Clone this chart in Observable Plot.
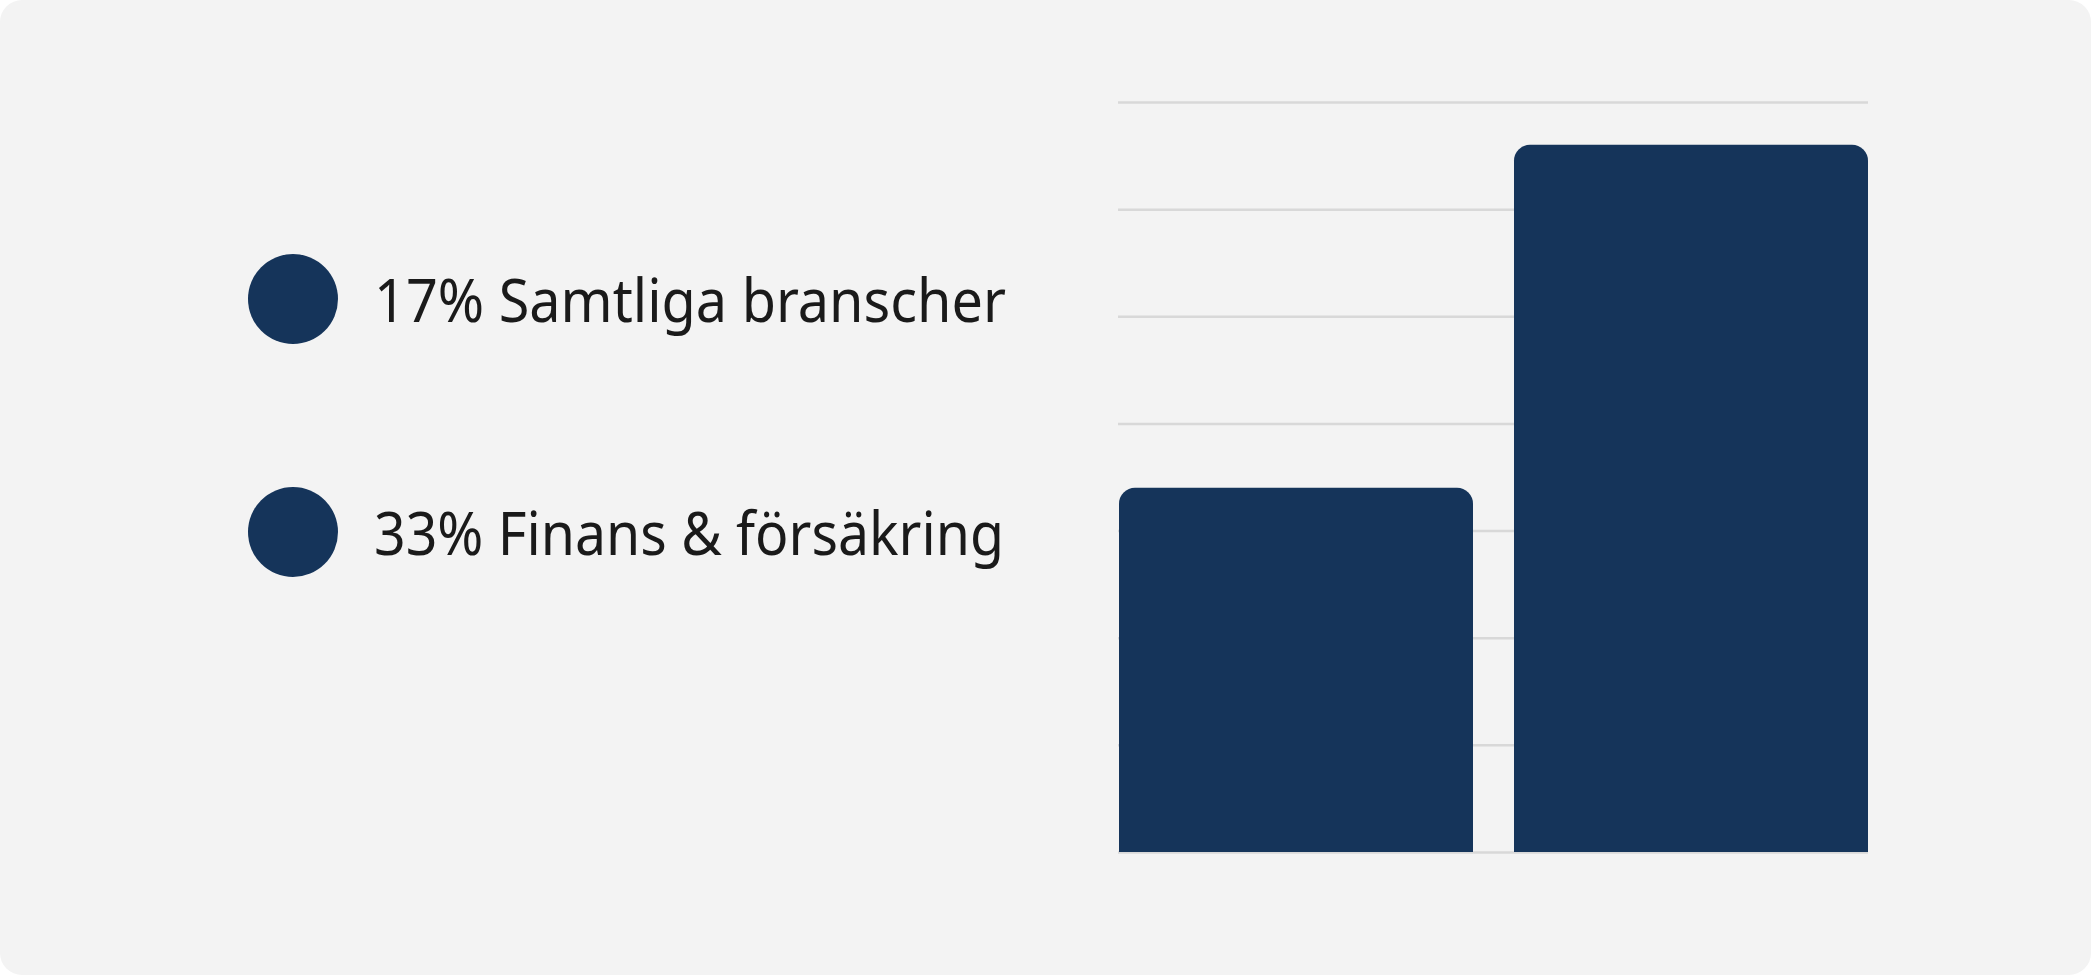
<!DOCTYPE html>
<html>
<head>
<meta charset="utf-8">
<script src="https://cdn.jsdelivr.net/npm/d3@7"></script>
<script src="https://cdn.jsdelivr.net/npm/@observablehq/plot@0.6"></script>
<style>
  html, body { margin: 0; padding: 0; background: #ffffff; }
  #card {
    position: relative; width: 2091px; height: 975px;
    background: #f3f3f3; border-radius: 22px; overflow: hidden;
    font-family: "Noto Sans", Roboto, sans-serif;
  }
  #chart { position: absolute; left: 0; top: 0; }
  .legend-item {
    position: absolute; left: 248px; height: 90px;
    display: flex; align-items: center; gap: 0;
  }
  .swatch { width: 90px; height: 90px; border-radius: 50%; flex: none; }
  .label {
    margin-left: 36px; font-size: 60px; color: #1a1a1a;
    white-space: nowrap; transform-origin: left center; line-height: 1;
  }
</style>
</head>
<body>
<div id="card">
  <div id="chart"></div>
  <div id="legend"></div>
</div>
<script>
// Share of respondents, per group
const categories = ["Samtliga branscher", "Finans & försäkring"];
const values = [17, 33];
const gridTicks = [0, 5, 10, 15, 20, 25, 30, 35];

const barColor = "#15345a";
const rows = categories.map((category, i) => ({category, value: values[i]}));

const chart = Plot.plot({
  width: 2091,
  height: 975,
  marginLeft: 1118,
  marginRight: 223,
  marginTop: 102,
  marginBottom: 123,
  x: {domain: categories, axis: null, paddingInner: 0.104, paddingOuter: 0, align: 0.5},
  y: {domain: [0, 35], axis: null},
  style: {background: "transparent", overflow: "visible"},
  marks: [
    Plot.ruleY(gridTicks, {stroke: "#d8d8d8", strokeWidth: 2.5}),
    // rounded top corners only
    Plot.barY(rows, {x: "category", y: "value", fill: barColor, ry1: 16})
  ]
});
document.getElementById("chart").append(chart);

// Legend: one swatch and label per group, listed top to bottom
const legend = d3.select("#legend");
const legendTops = [254, 487];
const labelWidths = [632, 630];
rows.forEach((d, i) => {
  const item = legend.append("div")
    .attr("class", "legend-item")
    .style("top", legendTops[i] + "px");
  item.append("div").attr("class", "swatch").style("background", barColor);
  const label = item.append("div").attr("class", "label")
    .text(`${d.value}% ${d.category}`);
  const w = label.node().getBoundingClientRect().width;
  label.style("transform", `scaleX(${labelWidths[i] / w})`);
});
</script>
</body>
</html>
